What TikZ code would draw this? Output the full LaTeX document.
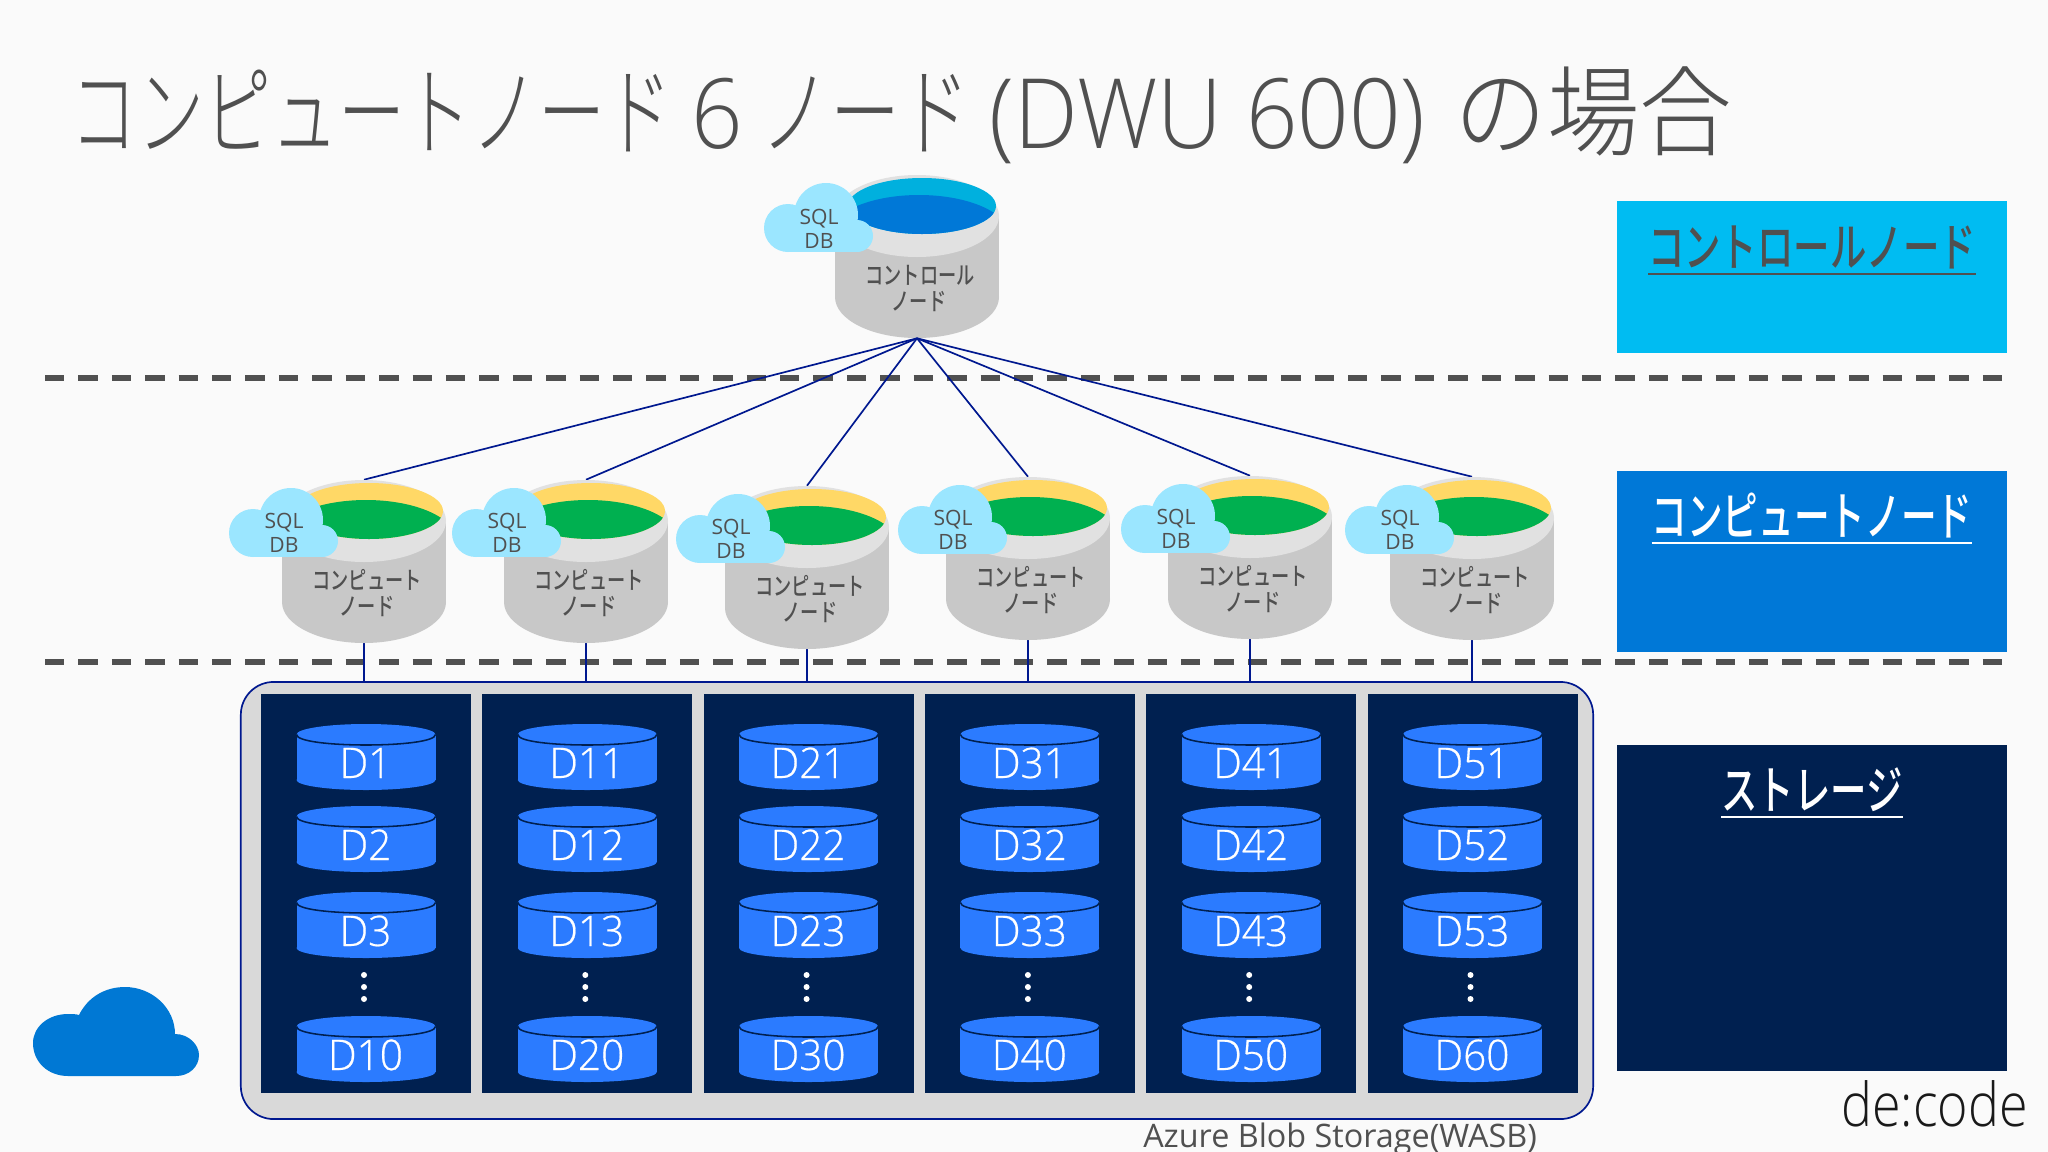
\documentclass[tikz,border=0pt]{standalone}
\usepackage{fontspec}
\setmainfont{Open Sans Light}
\newfontfamily\regf{Open Sans}
\newfontfamily\semif{Open Sans Light}[FakeBold=0.5]
\newfontfamily\jpm{Noto Sans CJK JP Medium}
\newfontfamily\jpl{Noto Sans CJK JP Light}
\definecolor{bgc}{HTML}{FAFAFA}
\definecolor{txt}{HTML}{505050}
\definecolor{wire}{HTML}{00188F}
\definecolor{bodyc}{HTML}{C8C8C8}
\definecolor{rimc}{HTML}{E1E1E1}
\definecolor{cloudc}{HTML}{9BE6FF}
\definecolor{diskc}{HTML}{2B7BFF}
\definecolor{navyc}{HTML}{002050}
\definecolor{ctlside}{HTML}{00BCF2}
\definecolor{cmpside}{HTML}{0078D7}
\definecolor{ctltop}{HTML}{00B0DE}
\definecolor{ctlwater}{HTML}{0078D7}
\definecolor{cmptop}{HTML}{FFD866}
\definecolor{cmpwater}{HTML}{00B050}
\definecolor{stor}{HTML}{D9D9D9}
\definecolor{bigcloud}{HTML}{0078D4}

\tikzset{
  cylbox/.style={minimum width=4.1cm,minimum height=4.075cm,inner sep=0pt},
  wirec/.style={draw=wire,line width=1.2pt},
  cyltext/.style={text=txt,inner sep=0pt,font=\jpm\fontsize{17.5}{19}\selectfont,align=center},
  sqltext/.style={text=txt,inner sep=0pt,font=\regf\fontsize{15}{16}\selectfont},
  disktext/.style={text=white,inner sep=0pt,anchor=base,font=\semif\fontsize{30}{32}\selectfont},
  sidetext/.style={inner sep=0pt,anchor=base,font=\jpm\fontsize{37}{40}\selectfont},
  dashline/.style={draw=txt,line width=3.6pt,dash pattern=on 13.8pt off 9.96pt},
}

% underlined legend heading, rule a bit heavier than \underline
\newcommand{\legul}[2]{\setbox0\hbox{#2}\scalebox{#1}[1]{\rlap{\raisebox{-6.5pt}{\rule{\wd0}{1.7pt}}}\box0}}
\newcommand{\tlat}[1]{\scalebox{0.93}[1]{\rmfamily\fontsize{69}{75}\selectfont #1}}

% cylinder: centre x, top y, cloud x offset, top colour, water colour
\newcommand{\dbcyl}[5]{
  \fill[bodyc] ({#1},{#2+122}) ellipse [x radius=82,y radius=41];
  \fill[bodyc] ({#1-82},{#2+41}) rectangle ({#1+82},{#2+122});
  \fill[rimc] ({#1},{#2+41}) ellipse [x radius=82,y radius=41];
  \begin{scope}
    \clip ({#1+5},{#2+31}) ellipse [x radius=74,y radius=28];
    \fill[#4] ({#1-80},{#2}) rectangle ({#1+90},{#2+70});
    \fill[#5] ({#1+2},{#2+60}) ellipse [x radius=90,y radius=40];
  \end{scope}
  \fill[cloudc] ({#1+#3+62},{#2+40}) circle [radius=32];
  \fill[cloudc] ({#1+#3+24},{#2+53}) circle [radius=24];
  \fill[cloudc] ({#1+#3+93},{#2+61}) circle [radius=16];
  \fill[cloudc] ({#1+#3+24},{#2+53}) rectangle ({#1+#3+93},{#2+77});
}

% disk: centre x, top y, label
\newcommand{\disk}[3]{
  \fill[diskc] ({#1},{#2+56}) ellipse [x radius=69.5,y radius=10];
  \fill[diskc] ({#1-69.5},{#2+10.5}) rectangle ({#1+69.5},{#2+56});
  \fill[diskc] ({#1},{#2+10.5}) ellipse [x radius=69.5,y radius=10.5];
  \draw[navyc,line width=1.1pt] ({#1-69.5},{#2+10.5}) .. controls ({#1-69.5},{#2+24.5}) and ({#1+69.5},{#2+24.5}) .. ({#1+69.5},{#2+10.5});
  \node[disktext] (d#3) at ({#1-0.5},{#2+54}) {\scalebox{0.96}[1]{D#3}};
}

\begin{document}
\begin{tikzpicture}[x=0.025cm,y=-0.025cm]
\path[use as bounding box,fill=bgc] (0,0) rectangle (2048,1152);

% title
\node[anchor=base west,inner sep=0pt,text=txt,font=\jpl\fontsize{70}{75}\selectfont] (title) at (70,148) {\scalebox{0.68}[1]{コンピュートノード}\hspace{-2pt} \tlat{6}\hspace{-3pt} \scalebox{0.71}[1]{ノード}\hspace{-1.5pt} \tlat{(DWU 600)}\hspace{5.5pt} \scalebox{0.94}[1]{の場合}};

% tier separators
\coordinate (dl1) at (45,378);
\coordinate (dr1) at (2002,378);
\coordinate (dl2) at (45,662);
\coordinate (dr2) at (2002,662);
\draw[dashline] (dl1) -- (dr1);
\draw[dashline] (dl2) -- (dr2);

% storage frame
\node[draw=wire,line width=1.2pt,fill=stor,rounded corners=0.82cm,minimum width=33.8cm,minimum height=10.925cm,inner sep=0pt] (store) at (917,900.5) {};

% control node
\node[cylbox] (ctl) at (917,256.5) {};
\dbcyl{917}{175}{-153}{ctltop}{ctlwater}
\node[sqltext] (ctlsql) at (819,219) {SQL};
\node[sqltext] (ctldb) at (819,241) {DB};
\node[cyltext] (ctll1) at (920,275) {\scalebox{0.74}[1]{コントロール}};
\node[cyltext] (ctll2) at (919,301) {\scalebox{0.74}[1]{ノード}};

% compute nodes
\foreach \i/\cx/\t/\o in {1/364/480/-135,2/586/480/-134,3/807/486/-131,4/1028/477/-130,5/1250/476/-129,6/1472/477/-127}{
  \node[cylbox] (c\i) at (\cx,\t+81.5) {};
  \draw[wirec] (ctl.south) -- (c\i.north);
  \draw[wirec] (c\i.south) -- (c\i.south |- store.north);
  \dbcyl{\cx}{\t}{\o}{cmptop}{cmpwater}
  \node[sqltext] (sql\i) at (\cx+\o+55,\t+43) {SQL};
  \node[sqltext] (db\i) at (\cx+\o+55,\t+65) {DB};
  \node[cyltext] (cl\i) at (\cx+3,\t+100) {\scalebox{0.74}[1]{コンピュート}};
  \node[cyltext] (cm\i) at (\cx+3,\t+126) {\scalebox{0.74}[1]{ノード}};
}

% storage columns
\foreach \c in {0,...,5}{
  \pgfmathsetmacro{\x}{261+221.3*\c}
  \pgfmathsetmacro{\cxx}{\x+105}
  \fill[navyc] (\x,694) rectangle (\x+210,1093);
  \foreach \r/\t in {1/724,2/806,3/892,10/1016}{
    \pgfmathtruncatemacro{\n}{10*\c+\r}
    \disk{\cxx}{\t}{\n}
  }
  \foreach \y in {975,987,999}
    \fill[white] (\cxx-2,\y) circle [radius=3];
}

\node[anchor=base,inner sep=0pt,text=txt,font=\regf\fontsize{23}{25}\selectfont] (wasb) at (1340,1147) {Azure Blob Storage(WASB)};

% cloud mark
\fill[bigcloud] (68,1076) .. controls (48,1076) and (33,1062) .. (33,1043)
  .. controls (33,1027) and (48,1014) .. (68,1014)
  .. controls (72,1014) and (76,1014) .. (79,1015)
  .. controls (88,997) and (105,987) .. (125,987)
  .. controls (152,987) and (175,1008) .. (175,1034)
  .. controls (189,1034) and (199,1045) .. (199,1055)
  .. controls (199,1067) and (189,1076) .. (176,1076) -- cycle;

% legend
\fill[ctlside] (1617,201) rectangle (2007,353);
\fill[cmpside] (1617,471) rectangle (2007,652);
\fill[navyc] (1617,745) rectangle (2007,1071);
\node[sidetext,text=txt] (legctl) at (1812,266) {\legul{0.70}{コントロールノード}};
\node[sidetext,text=white] (legcmp) at (1812,535) {\legul{0.685}{コンピュートノード}};
\node[sidetext,text=white] (legsto) at (1812,809) {\legul{0.70}{ストレージ}};

\node[anchor=base east,inner sep=0pt,text=black!90,font=\fontsize{43}{46}\selectfont] (logo) at (2028,1126) {\scalebox{0.86}[1]{de:code}};
\end{tikzpicture}
\end{document}
